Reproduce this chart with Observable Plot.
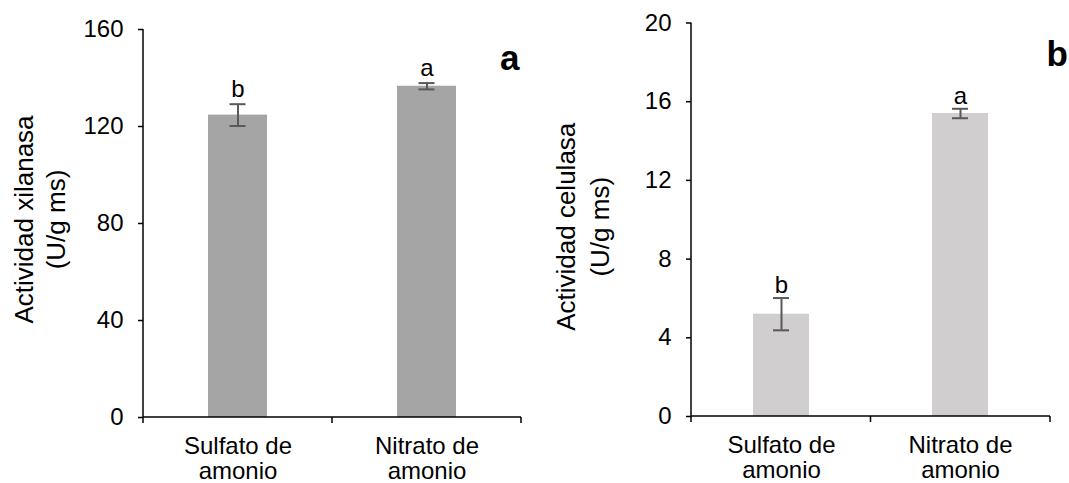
<!DOCTYPE html>
<html><head><meta charset="utf-8">
<script src="https://cdn.jsdelivr.net/npm/d3@7"></script>
<script src="https://cdn.jsdelivr.net/npm/@observablehq/plot@0.6"></script>
<style>
body{margin:0;background:#fff;}
#wrap{display:flex;width:1069px;height:483px;overflow:hidden;background:#fff;}
#wrap svg{overflow:visible;}
</style></head><body><div id="wrap"></div>
<script>
const categories = ["Sulfato de amonio", "Nitrato de amonio"];
const categoryLabels = ["Sulfato de\namonio", "Nitrato de\namonio"];
const xilanasaMean = [124.7, 136.6];
const xilanasaSE = [4.5, 1.3];
const xilanasaLetters = ["b", "a"];
const celulasaMean = [5.2, 15.4];
const celulasaSE = [0.82, 0.24];
const celulasaLetters = ["b", "a"];
const xilanasaTicks = [0, 40, 80, 120, 160];
const celulasaTicks = [0, 4, 8, 12, 16, 20];

const FONT = "'Liberation Sans', Arial, sans-serif";

function frameAxes(index, scales, values, dims) {
  const g = d3.create("svg:g").attr("stroke", "black").attr("stroke-width", 1.5).attr("fill", "none");
  const x0 = dims.marginLeft, x1 = dims.width - dims.marginRight;
  const y0 = dims.marginTop, y1 = dims.height - dims.marginBottom;
  g.append("line").attr("x1", x0).attr("x2", x0).attr("y1", y0).attr("y2", y1);
  g.append("line").attr("x1", x0).attr("x2", x1).attr("y1", y1).attr("y2", y1);
  const n = categories.length;
  for (let i = 0; i <= n; i++) {
    const x = x0 + (x1 - x0) * i / n;
    g.append("line").attr("x1", x).attr("x2", x).attr("y1", y1).attr("y2", y1 + 6);
  }
  return g.node();
}

function panel(o) {
  const data = categories.map((c, i) => ({
    cat: c, mean: o.means[i], lo: o.means[i] - o.ses[i], hi: o.means[i] + o.ses[i], sig: o.letters[i]
  }));
  return Plot.plot({
    width: o.width, height: 483,
    marginLeft: o.ml, marginRight: o.mr, marginTop: o.mt, marginBottom: o.mb,
    style: {fontFamily: FONT, color: "black", background: "white", overflow: "visible"},
    x: {domain: categories, paddingInner: 0.686, paddingOuter: 0.343, axis: null},
    y: {domain: o.domain, axis: null},
    marks: [
      Plot.barY(data, {x: "cat", y: "mean", fill: o.fill}),
      Plot.ruleX(data, {x: "cat", y1: "lo", y2: "hi", stroke: "#595959", strokeWidth: 2}),
      Plot.tickY(data, {x: "cat", y: "lo", stroke: "#595959", strokeWidth: 2, insetLeft: o.capInset, insetRight: o.capInset}),
      Plot.tickY(data, {x: "cat", y: "hi", stroke: "#595959", strokeWidth: 2, insetLeft: o.capInset, insetRight: o.capInset}),
      Plot.text(data, {x: "cat", y: "hi", text: "sig", dy: o.sigDy, lineAnchor: "bottom", fontSize: 24, fill: "black"}),
      Plot.axisY({ticks: o.ticks, tickSize: 5, tickPadding: 15, fontSize: 24, label: null, stroke: "black", strokeWidth: 1.5, fill: "black"}),
      Plot.axisX({tickSize: 0, tickPadding: 18, fontSize: 24, lineHeight: 1.06, label: null, fill: "black",
        tickFormat: c => categoryLabels[categories.indexOf(c)]}),
      frameAxes,
      Plot.text([o.title], {frameAnchor: "left", rotate: -90, dx: o.titleDx, dy: o.titleDy, fontSize: 26,
        lineHeight: o.titleLH, textAnchor: "middle", lineAnchor: "middle", fill: "black"}),
      Plot.text([o.panelLetter], {frameAnchor: "top-right", textAnchor: o.pAnchor, lineAnchor: "bottom",
        dx: o.pDx, dy: o.pDy, fontSize: 35, fontWeight: "bold", fill: "black"})
    ]
  });
}

const wrap = document.getElementById("wrap");
wrap.append(panel({
  width: 540, ml: 143, mr: 19, mt: 29, mb: 66,
  means: xilanasaMean, ses: xilanasaSE, letters: xilanasaLetters, ticks: xilanasaTicks, domain: [0, 160],
  fill: "#A5A5A5", capInset: 21.5, sigDy: -7,
  title: "Actividad xilanasa\n(U/g ms)", titleDx: -104.5, titleDy: -4, titleLH: 1.2,
  panelLetter: "a", pAnchor: "end", pDx: -2, pDy: 40
}));
wrap.append(panel({
  width: 529, ml: 151, mr: 19, mt: 22.5, mb: 67,
  means: celulasaMean, ses: celulasaSE, letters: celulasaLetters, ticks: celulasaTicks, domain: [0, 20],
  fill: "#D0CECE", capInset: 20, sigDy: -5,
  title: "Actividad celulasa\n(U/g ms)", titleDx: -110.5, titleDy: 7, titleLH: 1.3,
  panelLetter: "b", pAnchor: "start", pDx: -4, pDy: 42.5
}));
</script></body></html>
